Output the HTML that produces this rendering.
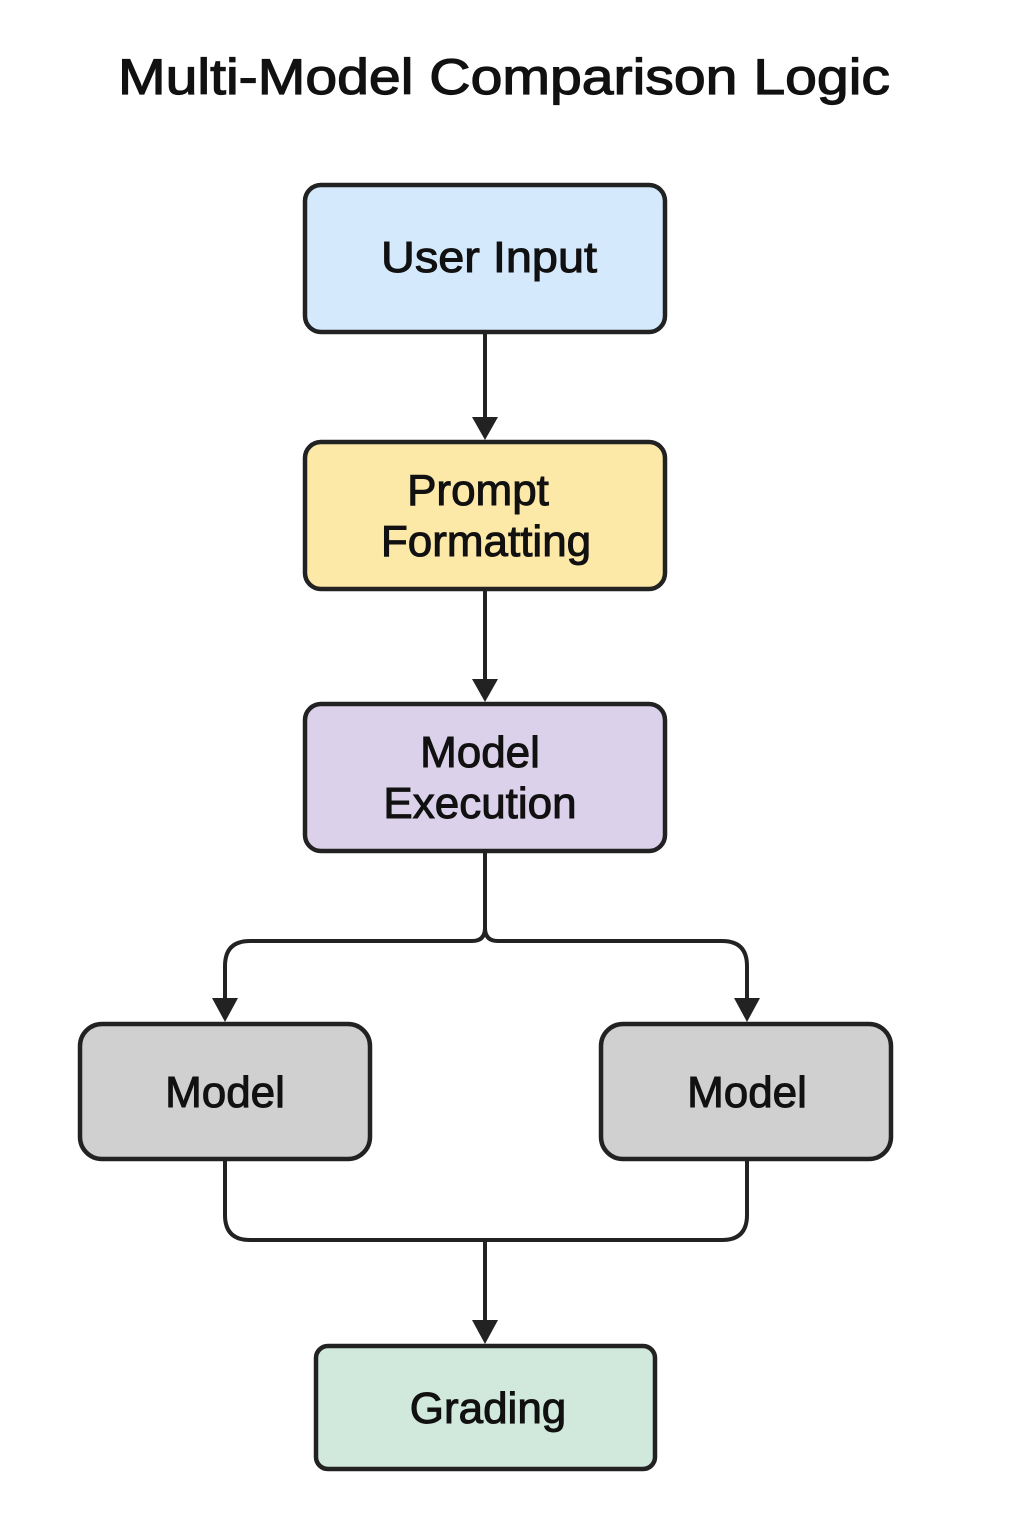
<!DOCTYPE html>
<html><head><meta charset="utf-8"><style>html,body{margin:0;padding:0;background:#fff}svg{display:block}</style></head>
<body>
<svg width="1024" height="1536" viewBox="0 0 1024 1536" xmlns="http://www.w3.org/2000/svg" font-family="Liberation Sans, sans-serif">
<rect width="1024" height="1536" fill="#fff"/>
<text x="504" y="94" font-size="50" text-anchor="middle" fill="#111" stroke="#111" stroke-width="1.2" textLength="772" lengthAdjust="spacingAndGlyphs">Multi-Model Comparison Logic</text>
<g stroke="#222" stroke-width="4.5" fill="none">
<rect x="305" y="185" width="360" height="147" rx="16" fill="#d5e9fd"/>
<rect x="305" y="442" width="360" height="147" rx="16" fill="#fde9a7"/>
<rect x="305" y="704" width="360" height="147" rx="16" fill="#dcd1ea"/>
<rect x="80" y="1024" width="290" height="135" rx="22" fill="#d0d0d0"/>
<rect x="601" y="1024" width="290" height="135" rx="22" fill="#d0d0d0"/>
<rect x="316" y="1346" width="339" height="123" rx="12" fill="#d0e9dc"/>
</g>
<g stroke="#222" stroke-width="4" fill="none">
<line x1="485" y1="332" x2="485" y2="420"/>
<line x1="485" y1="589" x2="485" y2="682"/>
<path d="M485 851 V928 Q485 941 472 941 H250 Q225 941 225 966 V1002"/>
<path d="M485 928 Q485 941 498 941 H722 Q747 941 747 966 V1002"/>
<path d="M225 1159 V1215 Q225 1240 250 1240 H722 Q747 1240 747 1215 V1159"/>
<path d="M485 1240 V1324"/>
</g>
<g fill="#222">
<polygon points="472,417 498,417 485,440"/>
<polygon points="472,679 498,679 485,702"/>
<polygon points="212,998 238,998 225,1022"/>
<polygon points="734,998 760,998 747,1022"/>
<polygon points="472,1320 498,1320 485,1344"/>
</g>
<g font-size="44" text-anchor="middle" fill="#111" stroke="#111" stroke-width="1">
<text x="489" y="272" textLength="216" lengthAdjust="spacingAndGlyphs">User Input</text>
<text x="478" y="505">Prompt</text>
<text x="486" y="556">Formatting</text>
<text x="480" y="767">Model</text>
<text x="480" y="818">Execution</text>
<text x="225" y="1107">Model</text>
<text x="747" y="1107">Model</text>
<text x="488" y="1423">Grading</text>
</g>
</svg>
</body></html>
